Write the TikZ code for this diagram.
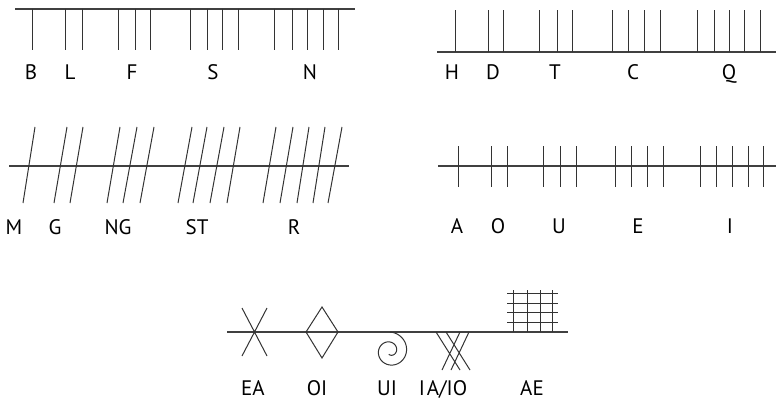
\documentclass[tikz,border=0pt]{standalone}
\usepackage{fontspec}
\setmainfont{PT Sans}
\usetikzlibrary{positioning}

\begin{document}
\begin{tikzpicture}[
x=1pt,y=-1pt,
stem/.style={draw=black!75, line width=1.1pt},
score/.style={draw=black!80, line width=1pt},
letter/.style={font=\fontsize{21}{24}\selectfont, inner sep=0pt, anchor=base}
]
\useasboundingbox (0,0) rectangle (776,401);
% aicme beithe: strokes below the stem
\draw[stem] (15,9) -- (355,9);
\foreach \x in {32,65,82,118,135,150,190,207,222,238,274,292,307,323,338}
\draw[score] (\x,9) -- (\x,50);
\foreach \t/\x in {B/31,L/70,F/132,S/213,N/310}
\node[letter] (b\t) at (\x,80) {\t};
% aicme huatha: strokes above the stem
\draw[stem] (437,52) -- (776,52);
\foreach \x in {455,488,503,539,557,572,612,628,644,660,697,714,729,744,760}
\draw[score] (\x,52) -- (\x,10);
\foreach \t/\x in {H/452,D/493,T/555,C/633,Q/729}
\node[letter] (h\t) at (\x,80) {\t};
% aicme muine: slanted strokes across
\draw[stem] (9,166) -- (349,166);
\foreach \b/\t in {23/35,54/67,70/83,107/120,123/137,140/154,178/192,193/207,210/224,227/240,263/276,280/293,297/309,313/325,328/342}
\draw[score] (\b,203) -- (\t,127);
\foreach \n/\t/\x in {m/M/14,g/G/55,ng/NG/118,st/ST/197,r/R/294}
\node[letter] (m\n) at (\x,234) {\t};
% aicme ailme: straight strokes across
\draw[stem] (438,166) -- (776,166);
\foreach \x in {458,491,507,543,560,576,615,631,647,663,700,716,732,748,763}
\draw[score] (\x,146) -- (\x,187);
\foreach \t/\x in {A/457,O/498,U/559,E/638,I/730}
\node[letter] (a\t) at (\x,233) {\t};
% forfeda
\draw[stem] (227,332) -- (568,332);
\draw[score] (242,308) -- (267,356) (267,308) -- (242,356);
\draw[score] (322,307) -- (338,332) -- (322,358) -- (306,332) -- cycle;
\draw[score] plot[domain=0:560, samples=140, variable=\t]
({390+(19-\t/36)*sin(\t)}, {351-(19-\t/36)*cos(\t)});
\draw[score] (436,332) -- (460,370) (446,332) -- (470,370)
(460,332) -- (442,370) (469,332) -- (451,370);
\foreach \x in {513,527,540,552}
\draw[score] (\x,290) -- (\x,332);
\foreach \y in {293,303,312,322}
\draw[score] (507,\y) -- (558,\y);
\foreach \n/\t/\x in {ea/EA/253,oi/OI/317,ui/UI/387,ia/{I\kern2pt A/IO}/443,ae/AE/532}
\node[letter] (f\n) at (\x,395) {\t};
\end{tikzpicture}
\end{document}
